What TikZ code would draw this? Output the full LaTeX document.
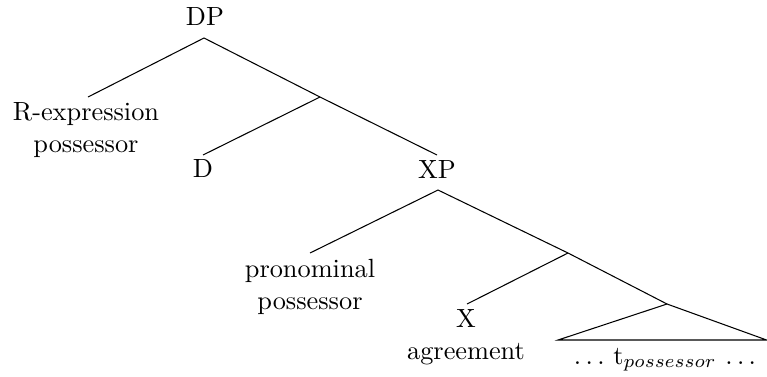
\documentclass[tikz,border=0pt]{standalone}
\begin{document}
\begin{tikzpicture}[x=0.38pt,y=-0.38pt,
  lab/.style={inner sep=0pt, align=center},
  edge/.style={line width=0.4pt}]
\useasboundingbox (0,0) rectangle (767,376);
% labels
\node[lab,anchor=base]  (DP)  at (205,25)  {DP};
\node[lab,anchor=north] (Rex) at (86,102)  {R-expression\\possessor};
\node[lab,anchor=base]  (D)   at (203,177) {D};
\node[lab,anchor=base]  (XP)  at (437,178) {XP};
\node[lab,anchor=north] (pro) at (310,259) {pronominal\\possessor};
\node[lab,anchor=north] (X)   at (466,309) {X\\agreement};
\node[lab,anchor=base]  (tr)  at (665,364) {$\ldots$ t$_{possessor}$ $\ldots$};
% branch points
\coordinate (DPb) at (204,38);
\coordinate (Rt)  at (88,97);
\coordinate (j1)  at (320,97);
\coordinate (Dt)  at (203,155);
\coordinate (XPt) at (437,155);
\coordinate (XPb) at (438,190);
\coordinate (pt)  at (310,253);
\coordinate (j2)  at (568,253);
\coordinate (Xt)  at (467,304);
\coordinate (tt)  at (667,304);
\coordinate (bl)  at (558,340);
\coordinate (br)  at (766.6,340);
% edges
\draw[edge] (Rt) -- (DPb) -- (j1) -- (XPt);
\draw[edge] (j1) -- (Dt);
\draw[edge] (pt) -- (XPb) -- (j2) -- (tt);
\draw[edge] (j2) -- (Xt);
\draw[edge] (tt) -- (bl) -- (br) -- cycle;
\end{tikzpicture}
\end{document}
